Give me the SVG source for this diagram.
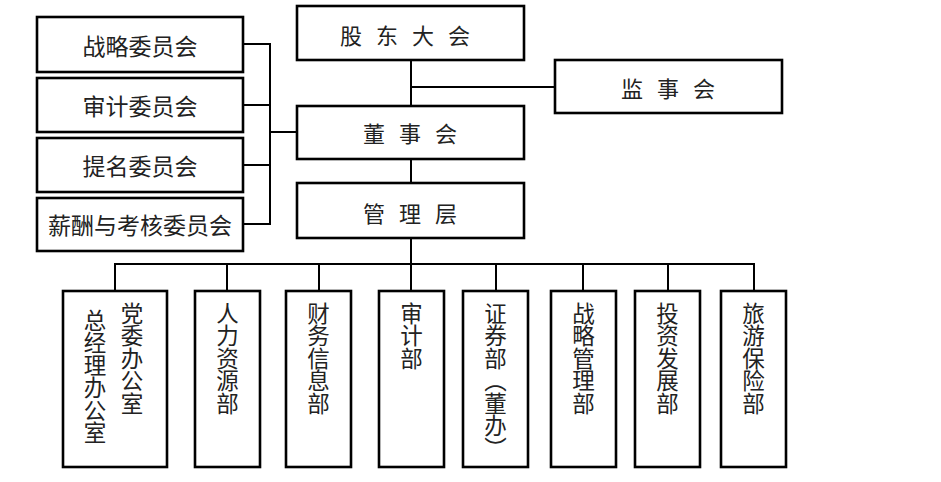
<svg xmlns="http://www.w3.org/2000/svg" width="941" height="482" viewBox="0 0 941 482">
<style>
.box{fill:#fff;stroke:#000;stroke-width:2.6}
.t{font-family:"Noto Sans CJK SC","Noto Sans CJK TC",sans-serif;fill:#222;font-size:23px;text-anchor:middle;dominant-baseline:central}
.sp{font-size:22px;letter-spacing:14px}
.v{font-family:"Noto Sans CJK SC",sans-serif;fill:#222;font-size:22.5px;writing-mode:vertical-rl}
.c{fill:none;stroke:#000;stroke-width:2}
</style>
<rect width="941" height="482" fill="#fff"/>
<g id="connectors">
<path class="c" d="M243,44H270M243,105H270M243,165H270M243,224H270M270,43V225M270,132H297"/>
<path class="c" d="M411,60V106" />
<path class="c" d="M411,87H555" stroke-width="1.5"/>
<path class="c" d="M411,159V183"/>
<path class="c" d="M411,238V264" stroke-width="3"/>
<path class="c" d="M115,264H754M115,263V291M319,264V291M411,264V291M496,264V291M583,264V291M668,264V291M754,263V291"/>
<path class="c" d="M227,264V291" stroke-width="3"/>
</g>
<g id="n-zhanlue"><rect class="box" x="37" y="17" width="206" height="55"/><text class="t" x="140" y="45">战略委员会</text></g>
<g id="n-shenji"><rect class="box" x="37" y="78" width="206" height="54"/><text class="t" x="140" y="105">审计委员会</text></g>
<g id="n-timing"><rect class="box" x="37" y="138" width="206" height="54"/><text class="t" x="140" y="165">提名委员会</text></g>
<g id="n-xinchou"><rect class="box" x="37" y="198" width="206" height="53"/><text class="t" x="140" y="224">薪酬与考核委员会</text></g>
<g id="n-gudong"><rect class="box" x="297" y="6" width="227" height="54"/><text class="t sp" x="412" y="34">股东大会</text></g>
<g id="n-jianshi"><rect class="box" x="555" y="60" width="227" height="53"/><text class="t sp" x="675" y="87">监事会</text></g>
<g id="n-dongshi"><rect class="box" x="297" y="106" width="227" height="53"/><text class="t sp" x="417" y="132">董事会</text></g>
<g id="n-guanli"><rect class="box" x="297" y="183" width="227" height="55"/><text class="t sp" x="417" y="212">管理层</text></g>
<g id="n-zongjingli"><rect class="box" x="63" y="291" width="104" height="176"/><text class="v" x="95" y="309">总经理办公室</text><text class="v" x="132" y="302">党委办公室</text></g>
<g id="n-renli"><rect class="box" x="195" y="291" width="65" height="176"/><text class="v" x="227.5" y="302">人力资源部</text></g>
<g id="n-caiwu"><rect class="box" x="286" y="291" width="65" height="176"/><text class="v" x="318.5" y="302">财务信息部</text></g>
<g id="n-shenjibu"><rect class="box" x="379" y="291" width="65" height="176"/><text class="v" x="411.5" y="302">审计部</text></g>
<g id="n-zhengquan"><rect class="box" x="463" y="291" width="65" height="176"/><text class="v" x="495.5" y="302">证券部（董办）</text></g>
<g id="n-zhanluebu"><rect class="box" x="551" y="291" width="65" height="176"/><text class="v" x="583.5" y="302">战略管理部</text></g>
<g id="n-touzi"><rect class="box" x="635" y="291" width="65" height="176"/><text class="v" x="667.5" y="302">投资发展部</text></g>
<g id="n-lvyou"><rect class="box" x="721" y="291" width="65" height="176"/><text class="v" x="753.5" y="302">旅游保险部</text></g>
</svg>
